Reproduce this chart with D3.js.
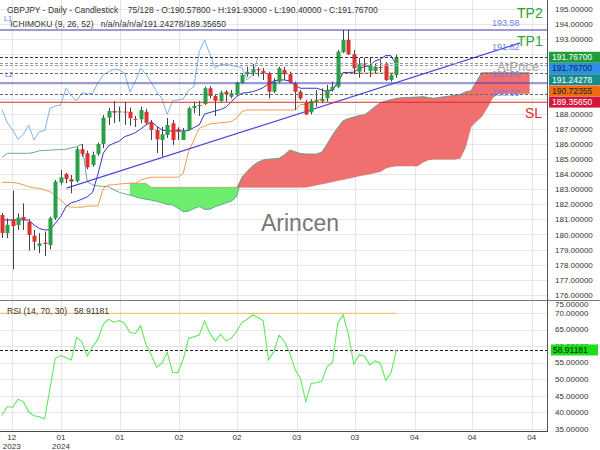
<!DOCTYPE html>
<html>
<head>
<meta charset="utf-8">
<script src="https://cdn.jsdelivr.net/npm/d3@7"></script>
<style>
  body { margin: 0; background: #fff; }
  svg { display: block; font-family: "Liberation Sans", Arial, sans-serif; }
</style>
</head>
<body>
<div id="chart"></div>
<script>
// ---- data ----
var candleOpen = [181.29, 180.09, 181.01, 180.63, 181.16, 180.85, 179.92, 179.24, 179.46, 179.30,
  181.08, 183.44, 184.02, 183.67, 183.55, 185.66, 185.39, 184.61, 185.35, 186.01,
  187.76, 188.20, 188.10, 188.16, 188.15, 187.68, 187.65, 188.15, 187.42, 186.94,
  186.28, 186.61, 187.38, 187.00, 186.28, 186.94, 188.38, 188.53, 188.67, 189.71,
  189.20, 188.86, 189.48, 189.15, 189.33, 190.08, 190.64, 190.74, 190.97, 190.85,
  190.70, 189.48, 190.15, 190.92, 190.64, 190.04, 189.48, 188.78, 188.11, 188.82,
  188.86, 189.04, 189.59, 189.81, 192.10, 192.92, 191.97, 190.81, 191.30, 190.87,
  190.86, 191.12, 191.30, 190.26, 190.578];
var candleHigh = [181.42, 181.07, 182.91, 181.41, 182.07, 181.01, 180.30, 180.08, 180.19, 181.19,
  183.62, 184.28, 184.10, 183.95, 185.83, 186.01, 185.56, 185.50, 186.10, 187.93,
  188.40, 188.86, 188.49, 188.82, 188.42, 187.87, 188.49, 188.34, 187.60, 187.14,
  187.14, 187.74, 187.60, 187.12, 187.07, 188.49, 188.82, 188.88, 189.81, 189.86,
  189.26, 189.55, 189.59, 189.59, 190.15, 190.70, 191.14, 191.32, 191.10, 191.06,
  190.81, 190.37, 191.14, 191.14, 190.81, 190.15, 189.59, 188.93, 188.99, 189.59,
  189.71, 189.93, 190.15, 192.25, 193.58, 193.58, 192.25, 191.72, 191.72, 191.72,
  191.32, 191.59, 191.45, 190.70, 191.93];
var candleLow = [179.76, 179.75, 177.69, 180.30, 180.30, 178.93, 178.97, 178.75, 178.57, 179.02,
  180.96, 183.29, 183.40, 182.74, 183.44, 185.17, 184.33, 184.50, 185.21, 185.74,
  187.27, 187.40, 187.49, 187.27, 187.22, 187.14, 187.38, 187.27, 186.28, 185.41,
  185.17, 186.41, 185.94, 186.28, 186.28, 186.89, 188.05, 187.87, 188.60, 189.04,
  187.87, 188.75, 188.82, 189.04, 189.20, 189.99, 190.48, 190.52, 190.48, 190.26,
  189.04, 189.38, 190.04, 190.26, 190.04, 188.27, 188.93, 187.93, 187.98, 188.49,
  188.71, 188.82, 189.48, 189.71, 192.05, 191.92, 190.64, 190.41, 190.79, 190.46,
  190.70, 190.79, 190.19, 190.15, 190.40];
var candleClose = [180.09, 180.64, 180.56, 181.12, 180.96, 179.97, 179.52, 179.41, 179.37, 181.08,
  183.51, 183.80, 183.69, 183.51, 185.66, 185.35, 184.46, 185.28, 186.01, 187.76,
  188.20, 188.09, 188.18, 188.12, 187.72, 187.66, 188.27, 187.42, 186.94, 186.32,
  186.65, 187.27, 186.28, 186.83, 186.89, 188.38, 188.53, 188.60, 189.71, 189.20,
  188.88, 189.42, 189.33, 189.38, 190.08, 190.59, 190.81, 190.97, 190.92, 190.72,
  189.48, 190.15, 191.04, 190.64, 190.11, 189.48, 189.04, 187.98, 188.86, 188.93,
  189.00, 189.59, 189.81, 192.14, 192.92, 191.97, 191.04, 191.30, 191.27, 191.25,
  191.14, 191.10, 190.26, 190.578, 191.767];

// ichimoku (9, 26, 52)
var tenkan = [180.96, 180.96, 180.96, 180.96, 180.96, 180.96, 180.63, 180.40, 180.30, 180.30,
  180.74, 181.18, 181.85, 182.11, 182.20, 182.35, 182.50, 182.80, 184.00, 185.40,
  185.90, 186.06, 186.20, 186.50, 186.61, 186.76, 187.00, 187.27, 187.49, 187.20,
  186.94, 186.87, 186.87, 186.87, 186.87, 186.90, 187.10, 187.27, 188.00, 188.10,
  188.20, 188.30, 188.45, 188.80, 189.15, 189.38, 189.42, 189.48, 189.60, 189.75,
  190.00, 190.20, 190.26, 190.26, 190.19, 189.90, 189.71, 189.71, 189.71, 189.71,
  189.60, 189.48, 189.60, 190.10, 190.76, 190.76, 190.78, 191.00, 191.15, 191.20,
  191.53, 191.65, 191.88, 191.87, 191.24];
var kijun = [183.46, 183.46, 183.45, 183.40, 183.30, 183.17, 183.10, 183.07, 182.95, 182.84,
  182.62, 182.29, 181.96, 181.81, 181.81, 181.81, 181.89, 181.89, 181.89, 183.07,
  183.29, 183.30, 183.35, 183.38, 183.40, 183.40, 183.60, 183.73, 183.80, 183.80,
  183.80, 183.80, 183.80, 183.80, 184.06, 185.50, 186.28, 187.05, 187.20, 187.34,
  187.38, 187.42, 187.45, 187.49, 187.72, 188.15, 188.27, 188.27, 188.27, 188.27,
  188.27, 188.27, 188.27, 188.27, 188.27, 188.27, 188.63, 188.63, 188.80, 188.80,
  189.10, 189.60, 189.60, 190.06, 190.72, 190.72, 190.72, 190.72, 190.72, 190.72,
  190.72, 190.72, 190.72, 190.72, 190.72];
// senkou span A, bars 0..99 (26 bars ahead of the last candle)
var senkouA = [185.13, 185.39, 185.39, 185.39, 185.39, 185.39, 185.45, 185.56, 185.58, 185.60,
  185.62, 185.64, 185.66, 185.75, 185.83, 186.00, 183.51, 183.30, 183.22, 183.20,
  183.17, 182.96, 182.80, 182.70, 182.62, 182.50, 182.40, 182.34, 182.28, 182.20,
  182.10, 182.00, 181.96, 181.75, 181.51, 181.55, 181.72, 181.85, 181.67, 181.67,
  181.85, 181.96, 182.10, 182.20, 182.51, 183.80, 184.20, 184.55, 184.80, 184.95,
  185.00, 185.03, 185.06, 185.30, 185.61, 185.50, 185.37, 185.35, 185.34, 185.34,
  185.47, 186.00, 186.60, 187.10, 187.55, 187.70, 187.80, 187.90, 187.95, 188.20,
  188.50, 188.75, 188.86, 188.95, 189.04, 189.08, 189.10, 189.11, 189.13, 189.15,
  189.10, 189.04, 189.10, 189.15, 189.20, 189.24, 189.30, 189.48, 189.55, 190.15,
  190.74, 190.74, 190.74, 190.74, 190.74, 190.74, 190.74, 190.74, 190.74, 190.74];
// senkou span B starts at bar 24
var senkouBStart = 24;
var senkouB = [183.40, 183.40, 183.40, 183.40,
  183.13, 183.13, 183.13, 183.13, 183.13, 183.13, 183.13, 183.13, 183.13, 183.13,
  183.13, 183.13, 183.13, 183.13, 183.13, 183.13, 183.13, 183.13, 183.13, 183.13,
  183.13, 183.13, 183.13, 183.13, 183.13, 183.13, 183.13, 183.13, 183.13, 183.13,
  183.20, 183.28, 183.35, 183.42, 183.50, 183.58, 183.65, 183.72, 183.80, 183.88,
  183.95, 184.02, 184.10, 184.17, 184.40, 184.50,
  184.55, 184.55, 184.55, 184.55, 184.55, 184.80, 184.95,
  185.00, 185.00, 185.00, 185.00, 185.00,
  185.06, 185.83, 187.16, 187.50, 187.82, 188.38, 189.04,
  189.36, 189.36, 189.36, 189.36, 189.36, 189.36, 189.36];
var chikouShift = 26;

// RSI (14, 70, 30)
var rsiValues = [39.2, 41.8, 41.5, 44.0, 43.3, 40.2, 39.0, 38.7, 38.0, 47.3,
  56.4, 57.2, 56.6, 55.9, 62.7, 61.4, 57.1, 59.9, 62.1, 66.7,
  68.2, 67.3, 67.8, 67.0, 64.2, 63.9, 66.2, 60.6, 57.4, 53.7,
  54.9, 58.2, 52.1, 52.1, 56.1, 62.4, 62.9, 63.4, 67.7, 63.9,
  61.6, 63.6, 61.7, 62.4, 64.5, 67.2, 68.2, 69.5, 68.8, 67.7,
  55.9, 58.4, 63.4, 61.4, 57.9, 52.9, 50.3, 43.3, 48.8, 49.0,
  49.5, 53.9, 55.1, 67.0, 69.5, 63.6, 54.6, 57.4, 57.1, 54.4,
  55.6, 54.9, 49.7, 52.1, 58.91181];
var rsiLast = 58.91181;
var rsiOverbought = 70;

// trend line (bar index, price) and horizontal levels
var trendBars = [12.1, 97.2];
var trendPrices = [183.08, 192.72];
var blueLevels = [193.58, 190.06];
var slLevel = 188.78;
var dashLevels = [191.767, 191.40, 191.24, 190.72355, 189.3565];
var dashColors = ["#333", "#999", "#999", "#666", "#666"];
var levelNotes = ["193.58", "191.82", "190.06", "188.60"];
var levelNotePrices = [193.86, 192.23, 190.43, 189.17];
var levelNoteColors = ["#6b83e6", "#6b83e6", "#8f6fd0", "#7a7ae0"];

// price boxes on the right axis
var boxValues = [191.767, 191.767, 191.24278, 190.72355, 189.3565];
var boxColors = ["#1f9d3a", "#2f8fe6", "#168c8c", "#ef6c12", "#d4163c"];
var boxTextColors = ["#fff", "#0a2a55", "#fff", "#222", "#fff"];

// x axis ticks (bar index) and labels
var tickBars = [1.82, 11.07, 22.1, 33.2, 44.1, 55.3, 66.2, 77.4, 88.2, 99.4];
var tickMonths = ["12", "01", "01", "02", "02", "03", "03", "04", "04", "04"];
var tickYears = ["2023", "2024", "", "", "", "", "", "", "", ""];
// 189..192 sit under the price boxes and are not shown
var priceTicks = [176, 177, 178, 179, 180, 181, 182, 183, 184, 185, 186, 187, 188, 193, 194, 195];
var priceGrid = [176, 177, 178, 179, 180, 181, 182, 183, 184, 185, 186, 187, 188, 189, 190, 191, 192, 193, 194, 195];
var rsiTicks = [35, 40, 45, 50, 55, 60, 65, 70, 75];

// ---- layout ----
var svgWidth = 600;
var svgHeight = 450;
var plotRight = 548;
var mainBottom = 300;
var rsiBottom = 432;

var svg = d3.select("#chart")
  .append("svg")
  .attr("width", svgWidth)
  .attr("height", svgHeight);

var x = d3.scaleLinear().domain([0, 100]).range([2, 535]);
var y = d3.scaleLinear().domain([176, 195]).range([294.7, 8.6]);
var yRsi = d3.scaleLinear().domain([35, 70]).range([429, 313.3]);

svg.append("defs").append("clipPath")
  .attr("id", "mainClip")
  .append("rect")
  .attr("x", 0).attr("y", 0)
  .attr("width", plotRight).attr("height", mainBottom);

// grid
var gridGroup = svg.append("g").attr("stroke", "#e6e6e6").attr("stroke-width", 1);
gridGroup.selectAll(".vgrid")
  .data(tickBars)
  .enter()
  .append("line")
  .attr("x1", d => Math.round(x(d)) + 0.5)
  .attr("x2", d => Math.round(x(d)) + 0.5)
  .attr("y1", 0)
  .attr("y2", rsiBottom);
gridGroup.selectAll(".hgrid")
  .data(priceGrid)
  .enter()
  .append("line")
  .attr("x1", 0).attr("x2", plotRight)
  .attr("y1", d => Math.round(y(d)) + 0.5)
  .attr("y2", d => Math.round(y(d)) + 0.5);
gridGroup.selectAll(".rgrid")
  .data(rsiTicks.filter(d => d <= 70))
  .enter()
  .append("line")
  .attr("x1", 0).attr("x2", plotRight)
  .attr("y1", d => Math.round(yRsi(d)) + 0.5)
  .attr("y2", d => Math.round(yRsi(d)) + 0.5);

var mainGroup = svg.append("g").attr("clip-path", "url(#mainClip)");

// cloud
var cloudData = senkouB.map((b, k) => ({ i: k + senkouBStart, a: senkouA[k + senkouBStart], b: b }));
var greenArea = d3.area()
  .x(d => x(d.i))
  .y0(d => y(d.a))
  .y1(d => y(Math.max(d.a, d.b)));
var redArea = d3.area()
  .x(d => x(d.i))
  .y0(d => y(d.b))
  .y1(d => y(Math.max(d.a, d.b)));
mainGroup.append("path").datum(cloudData).attr("d", greenArea).attr("fill", "#6cee6c");
mainGroup.append("path").datum(cloudData).attr("d", redArea).attr("fill", "#f07070");

var line = d3.line().x(d => x(d[0])).y(d => y(d[1]));

mainGroup.append("path")
  .datum(senkouA.map((v, i) => [i, v]))
  .attr("d", line).attr("fill", "none")
  .attr("stroke", "#4f9a8c").attr("stroke-width", 1).attr("opacity", 0.85);
mainGroup.append("path")
  .datum(senkouB.map((v, k) => [k + senkouBStart, v]))
  .attr("d", line).attr("fill", "none")
  .attr("stroke", "#c97a6a").attr("stroke-width", 0.8).attr("opacity", 0.7);

// chikou: closes drawn 26 bars back
mainGroup.append("path")
  .datum(candleClose.slice(chikouShift).map((v, k) => [k, v]))
  .attr("d", line).attr("fill", "none")
  .attr("stroke", "#7db4e8").attr("stroke-width", 1);
mainGroup.append("path")
  .datum(kijun.map((v, i) => [i, v]))
  .attr("d", line).attr("fill", "none")
  .attr("stroke", "#f5994a").attr("stroke-width", 1);
mainGroup.append("path")
  .datum(tenkan.map((v, i) => [i, v]))
  .attr("d", line).attr("fill", "none")
  .attr("stroke", "#3535c8").attr("stroke-width", 1);

// trend line
mainGroup.append("line")
  .attr("x1", x(trendBars[0])).attr("y1", y(trendPrices[0]))
  .attr("x2", x(trendBars[1])).attr("y2", y(trendPrices[1]))
  .attr("stroke", "#4848dd").attr("stroke-width", 1.2);

// candles
var candles = mainGroup.selectAll(".candle")
  .data(candleOpen.map((o, i) => ({ i: i, o: o, h: candleHigh[i], l: candleLow[i], c: candleClose[i] })))
  .enter()
  .append("g");
candles.append("line")
  .attr("x1", d => Math.round(x(d.i)) + 0.5)
  .attr("x2", d => Math.round(x(d.i)) + 0.5)
  .attr("y1", d => y(d.h))
  .attr("y2", d => y(d.l))
  .attr("stroke", "#444").attr("stroke-width", 1);
candles.append("rect")
  .attr("x", d => Math.round(x(d.i)) - 1.5)
  .attr("width", 4)
  .attr("y", d => y(Math.max(d.o, d.c)))
  .attr("height", d => Math.max(1, Math.abs(y(d.o) - y(d.c))))
  .attr("fill", d => d.c >= d.o ? "#27a048" : "#e0302e");

// horizontal levels
mainGroup.selectAll(".dash")
  .data(dashLevels)
  .enter()
  .append("line")
  .attr("x1", 0).attr("x2", plotRight)
  .attr("y1", d => Math.round(y(d)) + 0.5)
  .attr("y2", d => Math.round(y(d)) + 0.5)
  .attr("stroke", (d, i) => dashColors[i])
  .attr("stroke-dasharray", "3,2");
mainGroup.selectAll(".blue")
  .data(blueLevels)
  .enter()
  .append("line")
  .attr("x1", 0).attr("x2", plotRight)
  .attr("y1", d => y(d)).attr("y2", d => y(d))
  .attr("stroke", "#3a3ab8").attr("stroke-width", 1.2);
mainGroup.append("line")
  .attr("x1", 0).attr("x2", plotRight)
  .attr("y1", y(slLevel)).attr("y2", y(slLevel))
  .attr("stroke", "#dd2a2a").attr("stroke-width", 1.2);

// labels on the chart
mainGroup.selectAll(".note")
  .data(levelNotes)
  .enter()
  .append("text")
  .attr("x", 492)
  .attr("y", (d, i) => y(levelNotePrices[i]))
  .attr("font-size", "9px")
  .attr("fill", (d, i) => levelNoteColors[i])
  .text(d => d);
mainGroup.append("text")
  .attr("x", 497).attr("y", 71)
  .attr("font-size", "13px").attr("fill", "#a8a8a8")
  .text("AtPrice");
svg.append("text").attr("x", 517).attr("y", 18).attr("font-size", "14px").attr("fill", "#2ea32e").text("TP2");
svg.append("text").attr("x", 517).attr("y", 46).attr("font-size", "14px").attr("fill", "#2ea32e").text("TP1");
svg.append("text").attr("x", 525).attr("y", 118).attr("font-size", "14px").attr("fill", "#e02a2a").text("SL");
svg.append("text")
  .attr("x", 300).attr("y", 231)
  .attr("text-anchor", "middle")
  .attr("font-size", "23px").attr("fill", "#777")
  .text("Arincen");

// header
svg.append("text").attr("x", 7).attr("y", 13).attr("font-size", "8.5px").attr("fill", "#333")
  .text("GBPJPY - Daily - Candlestick\u00a0\u00a0\u00a0\u00a075/128 - O:190.57800 - H:191.93000 - L:190.40000 - C:191.76700");
svg.append("text").attr("x", 10).attr("y", 27).attr("font-size", "8.5px").attr("fill", "#333")
  .text("ICHIMOKU (9, 26, 52)\u00a0\u00a0\u00a0n/a/n/a/n/a/191.24278/189.35650");
svg.append("text").attr("x", 4).attr("y", 21).attr("font-size", "7px").attr("fill", "#5a70e0").text("L1");
svg.append("text").attr("x", 5).attr("y", 77).attr("font-size", "7px").attr("fill", "#5a70e0").text("L2");

// RSI panel
svg.append("line")
  .attr("x1", x(0) - 2).attr("x2", x(rsiValues.length - 1))
  .attr("y1", yRsi(rsiOverbought)).attr("y2", yRsi(rsiOverbought))
  .attr("stroke", "#f5c66e").attr("stroke-width", 1.2);
svg.append("line")
  .attr("x1", 0).attr("x2", plotRight)
  .attr("y1", Math.round(yRsi(rsiLast)) + 0.5).attr("y2", Math.round(yRsi(rsiLast)) + 0.5)
  .attr("stroke", "#222").attr("stroke-dasharray", "3,2");
svg.append("path")
  .datum(rsiValues.map((v, i) => [i, v]))
  .attr("d", d3.line().x(d => x(d[0])).y(d => yRsi(d[1])))
  .attr("fill", "none")
  .attr("stroke", "#5fe85f").attr("stroke-width", 1.1);
svg.append("text").attr("x", 7).attr("y", 314).attr("font-size", "8.5px").attr("fill", "#333")
  .text("RSI (14, 70, 30)\u00a0\u00a0\u00a058.91181");

// frame lines
svg.append("line").attr("x1", 0).attr("x2", svgWidth).attr("y1", mainBottom + 0.5).attr("y2", mainBottom + 0.5).attr("stroke", "#777");
svg.append("line").attr("x1", 0).attr("x2", plotRight).attr("y1", rsiBottom - 0.5).attr("y2", rsiBottom - 0.5).attr("stroke", "#444");
svg.append("line").attr("x1", plotRight - 0.5).attr("x2", plotRight - 0.5).attr("y1", 0).attr("y2", rsiBottom).attr("stroke", "#555");

// right axes
var priceAxis = svg.append("g")
  .attr("transform", `translate(${plotRight}, 0)`)
  .call(d3.axisRight(y).tickValues(priceTicks).tickSize(0).tickPadding(7).tickFormat(d3.format(".5f")));
priceAxis.select(".domain").remove();
priceAxis.selectAll("text").attr("font-size", "8px").attr("fill", "#333")
  .attr("font-family", "Liberation Sans, Arial, sans-serif");

svg.append("g").selectAll("text")
  .data(rsiTicks)
  .enter()
  .append("text")
  .attr("x", plotRight + 7)
  .attr("y", d => Math.max(yRsi(d), 304))
  .attr("dy", "0.32em")
  .attr("font-size", "8px").attr("fill", "#333")
  .text(d => d3.format(".5f")(d));

// stacked value boxes
var boxY = [];
boxValues.forEach(function (v, i) {
  var yy = y(v);
  if (i > 0) yy = Math.max(yy, boxY[i - 1] + 11.2);
  boxY.push(yy);
});
var boxes = svg.append("g").selectAll("g")
  .data(boxValues)
  .enter()
  .append("g")
  .attr("transform", (d, i) => `translate(${plotRight + 1}, ${boxY[i]})`);
boxes.append("rect")
  .attr("x", 0).attr("y", -5.5).attr("width", 52).attr("height", 11)
  .attr("fill", (d, i) => boxColors[i]);
boxes.append("text")
  .attr("x", 3).attr("dy", "0.34em")
  .attr("font-size", "8.5px")
  .attr("fill", (d, i) => boxTextColors[i])
  .text(d => d3.format(".5f")(d));

var rsiBox = svg.append("g").attr("transform", `translate(${plotRight + 1}, ${yRsi(rsiLast)})`);
rsiBox.append("rect").attr("x", 2).attr("y", -5.5).attr("width", 47).attr("height", 11).attr("fill", "#19e019");
rsiBox.append("text").attr("x", 4).attr("dy", "0.34em").attr("font-size", "8.5px").attr("fill", "#111")
  .text(d3.format(".5f")(rsiLast));

// bottom date labels
var xLabels = svg.append("g").selectAll("g")
  .data(tickBars)
  .enter()
  .append("g")
  .attr("transform", d => `translate(${x(d)}, 0)`);
xLabels.append("text")
  .attr("y", 440).attr("text-anchor", "middle")
  .attr("font-size", "8px").attr("fill", "#333")
  .text((d, i) => tickMonths[i]);
xLabels.append("text")
  .attr("y", 449).attr("text-anchor", "middle")
  .attr("font-size", "8px").attr("fill", "#333")
  .text((d, i) => tickYears[i]);
</script>
</body>
</html>
